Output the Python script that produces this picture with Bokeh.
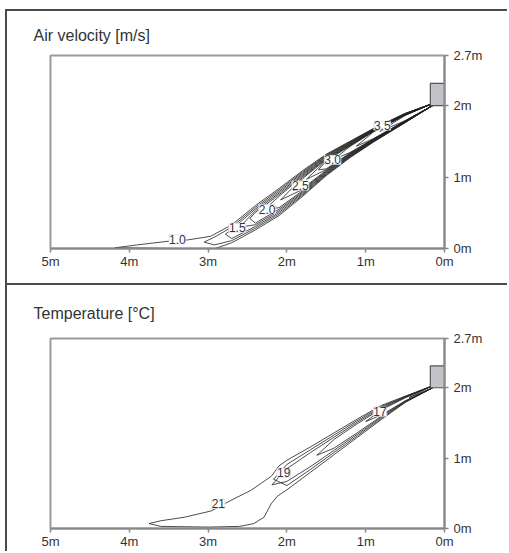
from bokeh.plotting import figure
from bokeh.layouts import column
from bokeh.models import Range1d, FixedTicker, ColumnDataSource, LabelSet
from bokeh.core.properties import value
from bokeh.embed import file_html
from bokeh.resources import INLINE

# ---------------- axes ----------------
x_ticks = [5, 4, 3, 2, 1, 0]
x_tick_labels = ["5m", "4m", "3m", "2m", "1m", "0m"]
y_ticks = [0, 1, 2, 2.7]
y_tick_labels = ["0m", "1m", "2m", "2.7m"]

# diffuser box (m)
diffuser_x = [0.0, 0.18]
diffuser_y = [2.0, 2.31]
# jet origin: start of upper edges, end of lower edges
jet_origin_x = [0.17, 0.15]
jet_origin_y = [2.02, 2.0]

# ---------------- air velocity contours (levels 1.0 .. 4.0 every 0.25) ----------------
vel_stations = [0.5, 0.9, 1.2, 1.5, 1.8, 2.1, 2.4, 2.7]
vel_upper_y = [
    [1.89, 1.68, 1.50, 1.32, 1.09, 0.84, 0.60, 0.33],
    [1.888, 1.676, 1.493, 1.31, 1.074, 0.818, 0.576, 0.30],
    [1.885, 1.671, 1.485, 1.30, 1.058, 0.796, 0.552, 0.27],
    [1.883, 1.667, 1.478, 1.289, 1.042, 0.774, 0.528],
    [1.880, 1.662, 1.471, 1.278, 1.026, 0.752, 0.504],
    [1.878, 1.658, 1.464, 1.268, 1.01, 0.73],
    [1.876, 1.654, 1.456, 1.257, 0.994],
    [1.873, 1.649, 1.449, 1.247, 0.978],
    [1.871, 1.645, 1.442, 1.236],
    [1.868, 1.64, 1.434, 1.226],
    [1.866, 1.636, 1.427],
    [1.864, 1.632],
    [1.861],
]
vel_lower_y = [
    [1.76, 1.49, 1.27, 1.02, 0.73, 0.46, 0.26, 0.08],
    [1.762, 1.494, 1.277, 1.031, 0.746, 0.482, 0.284, 0.11],
    [1.765, 1.499, 1.285, 1.041, 0.762, 0.504, 0.308, 0.14],
    [1.767, 1.503, 1.292, 1.052, 0.778, 0.526, 0.332],
    [1.770, 1.508, 1.299, 1.062, 0.794, 0.548, 0.356],
    [1.772, 1.512, 1.307, 1.073, 0.81, 0.57],
    [1.774, 1.516, 1.314, 1.083, 0.826],
    [1.777, 1.521, 1.321, 1.094, 0.842],
    [1.779, 1.525, 1.328, 1.104],
    [1.782, 1.53, 1.336, 1.115],
    [1.784, 1.534, 1.343],
    [1.786, 1.538],
    [1.788],
]
vel_tip_x = [
    [2.97, 3.26, 3.52, 3.9, 4.18, 3.5, 2.91],
    [2.9, 3.05, 2.92],
    [2.78], [2.6], [2.47], [2.28], [2.08], [1.92], [1.75], [1.6], [1.4], [1.12], [0.82],
]
vel_tip_y = [
    [0.17, 0.12, 0.10, 0.05, 0.01, 0.0, 0.0],
    [0.17, 0.09, 0.05],
    [0.20], [0.30], [0.42], [0.55], [0.68], [0.81], [0.97], [1.10], [1.25], [1.43], [1.64],
]
vel_label_text = ["1.0", "1.5", "2.0", "2.5", "3.0", "3.5"]
vel_label_x = [3.39, 2.63, 2.25, 1.83, 1.42, 0.79]
vel_label_y = [0.13, 0.29, 0.55, 0.88, 1.24, 1.72]

# ---------------- temperature contours (levels 21 .. 16 every 1) ----------------
temp_stations = [0.5, 0.8, 1.1, 1.4, 1.7, 2.0]
temp_upper_y = [
    [1.88, 1.75, 1.56, 1.36, 1.16, 0.97],
    [1.874, 1.734, 1.538, 1.329, 1.12, 0.91],
    [1.868, 1.718, 1.516, 1.298, 1.08, 0.85],
    [1.862, 1.702, 1.494, 1.267],
    [1.856, 1.686],
    [],
]
temp_lower_y = [
    [1.79, 1.55, 1.30, 1.05, 0.80, 0.55],
    [1.796, 1.566, 1.322, 1.081, 0.84, 0.61],
    [1.802, 1.582, 1.344, 1.112, 0.88, 0.67],
    [1.808, 1.598, 1.366, 1.143],
    [1.814, 1.614],
    [],
]
temp_tip_x = [
    [2.1, 2.2, 2.46, 2.71, 2.96, 3.3, 3.6, 3.75, 3.6, 3.0, 2.6, 2.42, 2.29, 2.2, 2.12],
    [2.17], [2.19], [1.62], [1.0], [0.45],
]
temp_tip_y = [
    [0.89, 0.74, 0.54, 0.40, 0.25, 0.16, 0.11, 0.07, 0.03, 0.02, 0.03, 0.07, 0.16, 0.35, 0.46],
    [0.70], [0.62], [1.04], [1.52], [1.86],
]
temp_label_text = ["17", "19", "21"]
temp_label_x = [0.82, 2.04, 2.87]
temp_label_y = [1.66, 0.79, 0.35]

FONT = "Liberation Sans"
BORDER = "2px solid #4a4a4a"


def build_loops(stations, upper, lower, tipx, tipy):
    xs, ys = [], []
    for up, lo, tx, ty in zip(upper, lower, tipx, tipy):
        n = len(up)
        st = stations[:n]
        xs.append([jet_origin_x[0]] + st + tx + st[::-1] + [jet_origin_x[1]])
        ys.append([jet_origin_y[0]] + up + ty + lo[::-1] + [jet_origin_y[1]])
    return xs, ys


def make_panel(title, height, top, bottom, styles, margin, title_standoff):
    p = figure(width=502, height=height, x_range=Range1d(5, 0), y_range=Range1d(0, 2.7),
               y_axis_location="right", output_backend="svg", toolbar_location=None,
               min_border_left=43, min_border_right=65, min_border_top=top,
               min_border_bottom=bottom, styles=styles, margin=margin)
    p.title.text = title
    p.title.text_font = FONT
    p.title.text_font_size = "16px"
    p.title.text_font_style = "normal"
    p.title.text_color = "#333333"
    p.title.offset = -17
    p.title.standoff = title_standoff
    p.xgrid.visible = False
    p.ygrid.visible = False
    p.outline_line_color = "#9a9a9a"
    p.outline_line_width = 2
    p.background_fill_color = "white"
    p.border_fill_color = "white"
    for ax, ticks, labels in ((p.xaxis, x_ticks, x_tick_labels), (p.yaxis, y_ticks, y_tick_labels)):
        ax.ticker = FixedTicker(ticks=ticks)
        ax.major_label_overrides = {t: l for t, l in zip(ticks, labels)}
        ax.axis_line_color = "#888888"
        ax.axis_line_width = 2
        ax.major_tick_line_color = "#888888"
        ax.major_tick_line_width = 1.5
        ax.major_tick_in = 0
        ax.major_tick_out = 4
        ax.minor_tick_line_color = None
        ax.major_label_text_font = FONT
        ax.major_label_text_font_size = "13px"
        ax.major_label_text_color = "#333333"
    p.xaxis.major_label_standoff = 1
    p.yaxis.major_label_standoff = 5
    return p


def add_content(p, stations, upper, lower, tipx, tipy, ltext, lx, ly):
    xs, ys = build_loops(stations, upper, lower, tipx, tipy)
    p.multi_line(xs, ys, line_color="#222222", line_width=0.9, line_alpha=0.9)
    p.quad(left=[diffuser_x[0]], right=[diffuser_x[1]], bottom=[diffuser_y[0]], top=[diffuser_y[1]],
           fill_color="#c2c2c8", line_color="#555555", line_width=1.2)
    src = ColumnDataSource(dict(x=lx, y=ly, t=ltext))
    p.add_layout(LabelSet(x="x", y="y", text="t", source=src, text_align="center",
                          text_baseline="middle", text_font=value(FONT),
                          text_font_size=value("12px"),
                          text_color="#333340", background_fill_color="white",
                          border_line_color="#d8dce8", border_line_width=0.8))


p1 = make_panel("Air velocity [m/s]", 276, 44, 39,
                {"border-left": BORDER, "border-top": BORDER, "border-bottom": BORDER},
                (9, 0, 0, 5), 24)
add_content(p1, vel_stations, vel_upper_y, vel_lower_y, vel_tip_x, vel_tip_y,
            vel_label_text, vel_label_x, vel_label_y)

p2 = make_panel("Temperature [°C]", 266, 53, 22, {"border-left": BORDER}, (0, 0, 0, 5), 34)
add_content(p2, temp_stations, temp_upper_y, temp_lower_y, temp_tip_x, temp_tip_y,
            temp_label_text, temp_label_x, temp_label_y)

layout = column(p1, p2, spacing=0)
open("out.html", "w").write(file_html(layout, INLINE))
